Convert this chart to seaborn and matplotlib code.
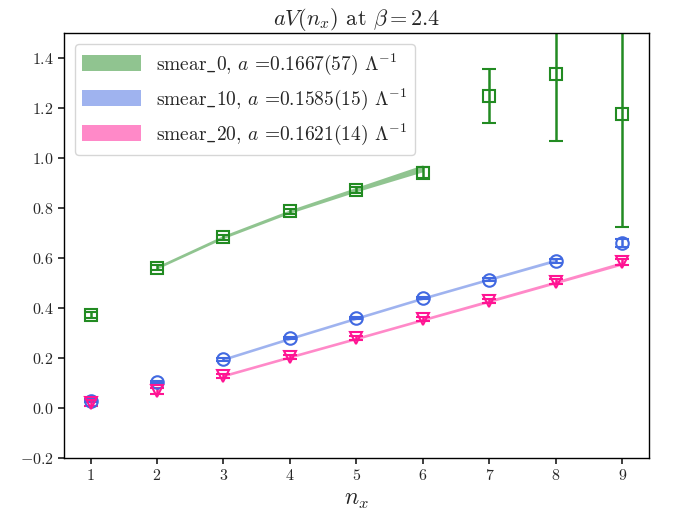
import matplotlib
matplotlib.use("Agg")
import matplotlib.pyplot as plt
import numpy as np
import seaborn as sns

# data
nx = [1, 2, 3, 4, 5, 6, 7, 8, 9]

v_s0 = [0.372, 0.562, 0.684, 0.788, 0.872, 0.940, 1.248, 1.336, 1.176]
e_s0 = [0.012, 0.010, 0.010, 0.010, 0.012, 0.022, 0.108, 0.270, 0.452]

v_s10 = [0.030, 0.105, 0.195, 0.280, 0.360, 0.440, 0.513, 0.590, 0.660]
e_s10 = [0.006, 0.005, 0.005, 0.005, 0.005, 0.005, 0.006, 0.008, 0.016]

v_s20 = [0.020, 0.068, 0.130, 0.205, 0.280, 0.355, 0.428, 0.505, 0.583]
e_s20 = [0.012, 0.012, 0.008, 0.008, 0.008, 0.008, 0.008, 0.010, 0.012]

# fit bands (lower, upper) at integer n_x inside each fit range
band_x_s0 = [2, 3, 4, 5, 6]
band_lo_s0 = [0.556, 0.678, 0.779, 0.865, 0.945]
band_hi_s0 = [0.568, 0.691, 0.793, 0.883, 0.973]

band_x_s10 = [3, 4, 5, 6, 7, 8]
band_lo_s10 = [0.190, 0.273, 0.354, 0.434, 0.510, 0.585]
band_hi_s10 = [0.201, 0.284, 0.365, 0.445, 0.521, 0.597]

band_x_s20 = [3, 4, 5, 6, 7, 8, 9]
band_lo_s20 = [0.124, 0.199, 0.273, 0.348, 0.422, 0.497, 0.572]
band_hi_s20 = [0.135, 0.210, 0.284, 0.359, 0.434, 0.509, 0.586]

labels = [
    r"smear$\_$0, $a$ =0.1667(57) $\Lambda^{-1}$",
    r"smear$\_$10, $a$ =0.1585(15) $\Lambda^{-1}$",
    r"smear$\_$20, $a$ =0.1621(14) $\Lambda^{-1}$",
]
colors = ["forestgreen", "royalblue", "deeppink"]
markers = ["s", "o", "v"]

sns.set_theme(style="ticks")
plt.rcParams["font.family"] = ["cmr10", "DejaVu Serif"]
plt.rcParams["mathtext.fontset"] = "cm"
plt.rcParams["axes.formatter.use_mathtext"] = True
plt.rcParams["axes.unicode_minus"] = True

fig, ax = plt.subplots(figsize=(6.73, 5.27), dpi=100)
fig.subplots_adjust(left=0.095, right=0.9643, top=0.9374, bottom=0.1309)

series = [
    (v_s0, e_s0, band_x_s0, band_lo_s0, band_hi_s0),
    (v_s10, e_s10, band_x_s10, band_lo_s10, band_hi_s10),
    (v_s20, e_s20, band_x_s20, band_lo_s20, band_hi_s20),
]
for (v, e, bx, lo, hi), lab, c, m in zip(series, labels, colors, markers):
    ax.fill_between(bx, lo, hi, color=c, alpha=0.5, lw=0, label=lab)
    ax.errorbar(nx, v, yerr=e, fmt=m, mfc="none", mec=c, ms=9, mew=1.5,
                color=c, ecolor=c, elinewidth=1.8, capsize=5, capthick=1.5)

ax.set_xlim(0.6, 9.4)
ax.set_ylim(-0.2, 1.5)
ax.set_xticks(nx)
ax.set_yticks(np.arange(-0.2, 1.41, 0.2))
ax.tick_params(labelsize=11.5, direction="out", length=4)
ax.set_xlabel(r"$n_x$", fontsize=17)
ax.set_title(r"$aV(n_x)$ at $\beta=2.4$", fontsize=16)
for s in ax.spines.values():
    s.set_linewidth(1.0)
    s.set_color("black")

ax.legend(loc="upper left", fontsize=14, handlelength=3.0, handleheight=0.9,
          framealpha=0.8, borderaxespad=0.55)

fig.savefig("out.png", dpi=100)
